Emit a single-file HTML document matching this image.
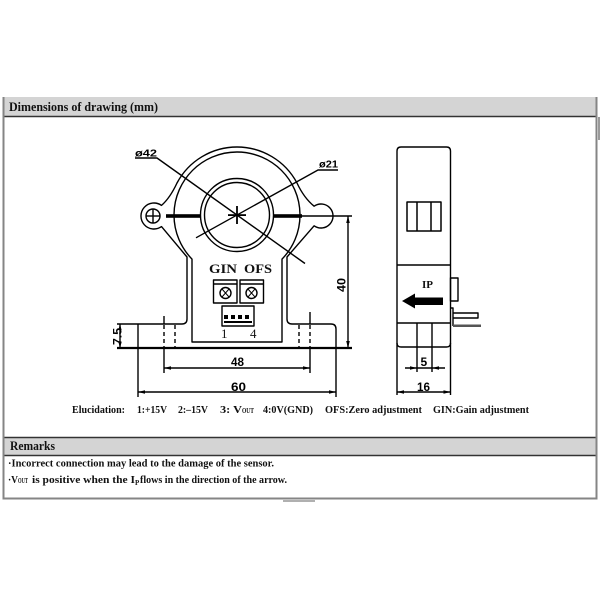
<!DOCTYPE html>
<html><head><meta charset="utf-8"><style>
html,body{margin:0;padding:0;background:#fff;}
svg{display:block;}
</style></head><body>
<svg width="600" height="600" viewBox="0 0 600 600" xmlns="http://www.w3.org/2000/svg">
<rect width="600" height="600" fill="#fff"/>
<!-- frame -->
<rect x="4" y="97" width="592" height="19" fill="#d4d4d4"/>
<line x1="4" y1="116.5" x2="596" y2="116.5" stroke="#333" stroke-width="1.5"/>
<rect x="4" y="437" width="592" height="18" fill="#d4d4d4"/>
<line x1="4" y1="437.5" x2="596" y2="437.5" stroke="#333" stroke-width="1.5"/>
<line x1="4" y1="455.5" x2="596" y2="455.5" stroke="#333" stroke-width="1.5"/>
<line x1="3.5" y1="97" x2="3.5" y2="499.5" stroke="#858585" stroke-width="2"/>
<line x1="596.5" y1="97" x2="596.5" y2="499.5" stroke="#858585" stroke-width="2"/>
<line x1="3" y1="498.5" x2="597" y2="498.5" stroke="#858585" stroke-width="2"/>
<rect x="598" y="117" width="2" height="23" fill="#9a9a9a"/>
<rect x="283" y="500" width="32" height="2" fill="#b0b0b0"/>

<g font-family="Liberation Serif, serif" font-weight="bold" fill="#111">
<text x="9" y="111" font-size="13" textLength="149" lengthAdjust="spacingAndGlyphs">Dimensions of drawing (mm)</text>
<text x="10" y="450" font-size="13" textLength="45" lengthAdjust="spacingAndGlyphs">Remarks</text>
<text x="8" y="466.5" font-size="10" textLength="266" lengthAdjust="spacingAndGlyphs">·Incorrect connection may lead to the damage of the sensor.</text>
<text x="8" y="483" font-size="10" textLength="10" lengthAdjust="spacingAndGlyphs">·V</text>
<text x="18" y="483" font-size="7" textLength="10" lengthAdjust="spacingAndGlyphs">OUT</text>
<text x="32" y="483" font-size="10" textLength="103" lengthAdjust="spacingAndGlyphs">is positive when the I</text>
<text x="135" y="485" font-size="7">P</text>
<text x="140" y="483" font-size="10" textLength="147" lengthAdjust="spacingAndGlyphs">flows in the direction of the arrow.</text>

<text x="72" y="413" font-size="11" textLength="53" lengthAdjust="spacingAndGlyphs">Elucidation:</text>
<text x="137" y="413" font-size="11" textLength="30" lengthAdjust="spacingAndGlyphs">1:+15V</text>
<text x="178" y="413" font-size="11" textLength="30" lengthAdjust="spacingAndGlyphs">2:–15V</text>
<text x="220" y="413" font-size="11" textLength="22" lengthAdjust="spacingAndGlyphs">3: V</text>
<text x="242" y="413" font-size="7.5" textLength="12" lengthAdjust="spacingAndGlyphs">OUT</text>
<text x="263" y="413" font-size="11" textLength="50" lengthAdjust="spacingAndGlyphs">4:0V(GND)</text>
<text x="325" y="413" font-size="11" textLength="97" lengthAdjust="spacingAndGlyphs">OFS:Zero adjustment</text>
<text x="433" y="413" font-size="11" textLength="96" lengthAdjust="spacingAndGlyphs">GIN:Gain adjustment</text>

<text x="209" y="273" font-size="13" textLength="28" lengthAdjust="spacingAndGlyphs">GIN</text>
<text x="244" y="273" font-size="13" textLength="28" lengthAdjust="spacingAndGlyphs">OFS</text>
<text x="422" y="288" font-size="11" textLength="11" lengthAdjust="spacingAndGlyphs">IP</text>
</g>
<g font-family="Liberation Serif, serif" fill="#111" font-size="13">
<text x="221" y="338">1</text>
<text x="250" y="338">4</text>
</g>

<!-- front view -->
<g fill="none" stroke="#000" stroke-width="1.4" stroke-linejoin="round">
<path d="M117 324 H182 Q187 324 187 319 V257 L161.5 226.6 A13 13 0 1 1 161.5 205.4 Q170 198 177 183 A68 68 0 0 1 297 183 Q304 198 314.1 206.2 A12 12 0 1 1 314.1 225.8 L287 257 V319 Q287 324 292 324 H331 Q336 324 336 329 V397"/>
<line x1="138" y1="324" x2="138" y2="397"/>
<path d="M192 342 V259.1 A63 63 0 1 1 282 259.1 V342 Z"/>
<circle cx="237" cy="215" r="36.5"/>
<circle cx="237" cy="215" r="32.5"/>
<circle cx="153" cy="216" r="7"/>
<line x1="146" y1="216" x2="160" y2="216"/>
<line x1="153" y1="209" x2="153" y2="223"/>
<path d="M135 158 H157 L305 263.5"/>
<path d="M338 170 H318 L196 237.8"/>
<line x1="302" y1="216" x2="352" y2="216"/>
<!-- dims -->
<line x1="348" y1="216" x2="348" y2="348"/>
<line x1="117" y1="348" x2="352" y2="348" stroke-width="2.2"/>
<line x1="120" y1="324" x2="120" y2="348"/>
<line x1="164" y1="316" x2="164" y2="324"/>
<line x1="164" y1="348" x2="164" y2="373"/>
<line x1="310" y1="312" x2="310" y2="324"/>
<line x1="310" y1="348" x2="310" y2="373"/>
<line x1="164" y1="368" x2="310" y2="368"/>
<line x1="138" y1="392" x2="336" y2="392"/>
<g stroke-dasharray="4 3">
<line x1="164" y1="325" x2="164" y2="348"/>
<line x1="175" y1="325" x2="175" y2="348"/>
<line x1="299" y1="325" x2="299" y2="348"/>
<line x1="310" y1="325" x2="310" y2="348"/>
</g>
<!-- pots -->
<rect x="213.5" y="280" width="23.5" height="23"/>
<rect x="240" y="280" width="23.5" height="23"/>
<line x1="213.5" y1="284" x2="237" y2="284"/>
<line x1="240" y1="284" x2="263.5" y2="284"/>
<circle cx="225.5" cy="293" r="5.5"/>
<circle cx="251.5" cy="293" r="5.5"/>
<path d="M222 289 L229 297 M229 289 L222 297 M248 289 L255 297 M255 289 L248 297" stroke-width="1"/>
<rect x="222" y="306" width="32" height="20"/>
<line x1="224" y1="322" x2="252" y2="322" stroke-width="2"/>
</g>
<g fill="#000">
<rect x="224" y="315" width="4" height="4"/>
<rect x="231" y="315" width="4" height="4"/>
<rect x="238" y="315" width="4" height="4"/>
<rect x="245" y="315" width="4" height="4"/>
<rect x="166" y="214.2" width="35" height="3.6"/>
<rect x="273" y="214.2" width="29" height="3.6"/>
<rect x="228" y="214.2" width="18" height="1.8"/>
<rect x="236.1" y="206" width="1.8" height="18"/>
<!-- arrowheads -->
<polygon points="164,368 171,366.2 171,369.8"/>
<polygon points="310,368 303,366.2 303,369.8"/>
<polygon points="138,392 145,390.2 145,393.8"/>
<polygon points="336,392 329,390.2 329,393.8"/>
<polygon points="348,216 346.2,223 349.8,223"/>
<polygon points="348,348 346.2,341 349.8,341"/>
<polygon points="120,324 118.4,330 121.6,330"/>
<polygon points="120,348 118.4,342 121.6,342"/>
</g>
<g font-family="Liberation Sans, sans-serif" font-weight="bold" fill="#000">
<text x="135" y="156.5" font-size="10" textLength="22" lengthAdjust="spacingAndGlyphs">ø42</text>
<text x="319" y="167.5" font-size="10" textLength="19" lengthAdjust="spacingAndGlyphs">ø21</text>
<text x="231" y="366" font-size="11.5" textLength="13" lengthAdjust="spacingAndGlyphs">48</text>
<text x="231" y="391" font-size="11.5" textLength="15" lengthAdjust="spacingAndGlyphs">60</text>
<text transform="translate(345.5,292) rotate(-90)" font-size="11.5" textLength="14" lengthAdjust="spacingAndGlyphs">40</text>
<text transform="translate(121.5,345) rotate(-90)" font-size="11.5" textLength="17" lengthAdjust="spacingAndGlyphs">7.5</text>
<text x="420.5" y="366" font-size="12">5</text>
<text x="417" y="391" font-size="11.5" textLength="13" lengthAdjust="spacingAndGlyphs">16</text>
</g>

<!-- side view -->
<g fill="none" stroke="#000" stroke-width="1.4" stroke-linejoin="round">
<path d="M397 395 V151 Q397 147 401 147 H446.5 Q450.5 147 450.5 151 V395"/>
<path d="M397 343 Q397 347 401 347 H446.5 Q450.5 347 450.5 343"/>
<line x1="397" y1="265" x2="450.5" y2="265"/>
<line x1="397" y1="323" x2="450.5" y2="323"/>
<line x1="417" y1="323" x2="417" y2="372"/>
<line x1="432" y1="323" x2="432" y2="372"/>
<rect x="407" y="202" width="34" height="29" stroke-width="1.5"/>
<line x1="417" y1="202" x2="417" y2="231" stroke-width="1.5"/>
<line x1="431" y1="202" x2="431" y2="231" stroke-width="1.5"/>
<rect x="450.5" y="278" width="7.5" height="23"/>
<path d="M450.5 308 H453 V326"/>
<path d="M453 313 H478 V318 H453"/>
<line x1="405" y1="368" x2="445" y2="368"/>
<line x1="397" y1="392" x2="450.5" y2="392"/>
</g>
<g fill="#000">
<rect x="453" y="324.5" width="28" height="2.5" fill="#555"/>
<polygon points="402,301 415,293.5 415,297.5 443,297.5 443,305 415,305 415,308.5"/>
<polygon points="417,368 410,366.2 410,369.8"/>
<polygon points="432,368 439,366.2 439,369.8"/>
<polygon points="397,392 404,390.2 404,393.8"/>
<polygon points="450.5,392 443.5,390.2 443.5,393.8"/>
</g>
</svg>
</body></html>
